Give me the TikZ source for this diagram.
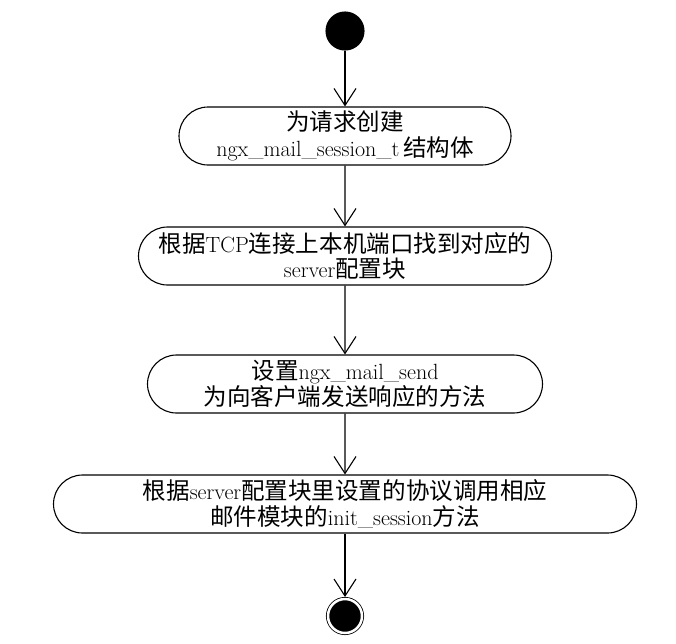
\documentclass[tikz,border=0pt]{standalone}
\usepackage{fontspec}
\newfontfamily\cjk[Scale=1.07]{Noto Sans CJK SC}
\newcommand{\zh}[1]{{\cjk #1}}
\usetikzlibrary{arrows.meta, positioning, shapes.misc}

\begin{document}
\begin{tikzpicture}[x=1pt, y=-1pt, >={Straight Barb[length=17pt, width=22pt]}, line width=1.1pt, node distance=120pt,
  act/.style = {draw, rounded rectangle, minimum height=58pt, inner sep=0pt, align=center, font=\fontsize{22}{25.5}\selectfont},
  init/.style = {draw, circle, fill, minimum size=38pt, inner sep=0pt},
  final/.style = {draw, circle, fill, minimum size=34pt, inner sep=0pt, outer sep=2pt, double, double distance=2.5pt, line width=0.8pt}]

      \useasboundingbox (0,0) rectangle (676,643);

      % Nodes
      \node[init] (s) at (345,31) {};
      \node[act, minimum width=332pt, below of=s, yshift=15pt] (1) {\zh{为请求创建}\\ngx\_mail\_session\_t\,\zh{结构体}};
      \node[act, minimum width=413pt, below of=1] (2) {\zh{根据}TCP\zh{连接上本机端口找到对应的}\\server\zh{配置块}};
      \node[act, minimum width=395pt, below of=2, yshift=-8pt] (3) {\zh{设置}ngx\_mail\_send\\\zh{为向客户端发送响应的方法}};
      \node[act, minimum width=583pt, below of=3] (4) {\zh{根据}server\zh{配置块里设置的协议调用相应}\\\zh{邮件模块的}init\_session\zh{方法}};
      \node[final, below of=4, yshift=8pt] (e) {};

      \draw[->] (s) -- (1);
      \draw[->] (1) -- (2);
      \draw[->] (2) -- (3);
      \draw[->] (3) -- (4);
      \draw[->] (4) -- (e);

    \end{tikzpicture}
\end{document}
